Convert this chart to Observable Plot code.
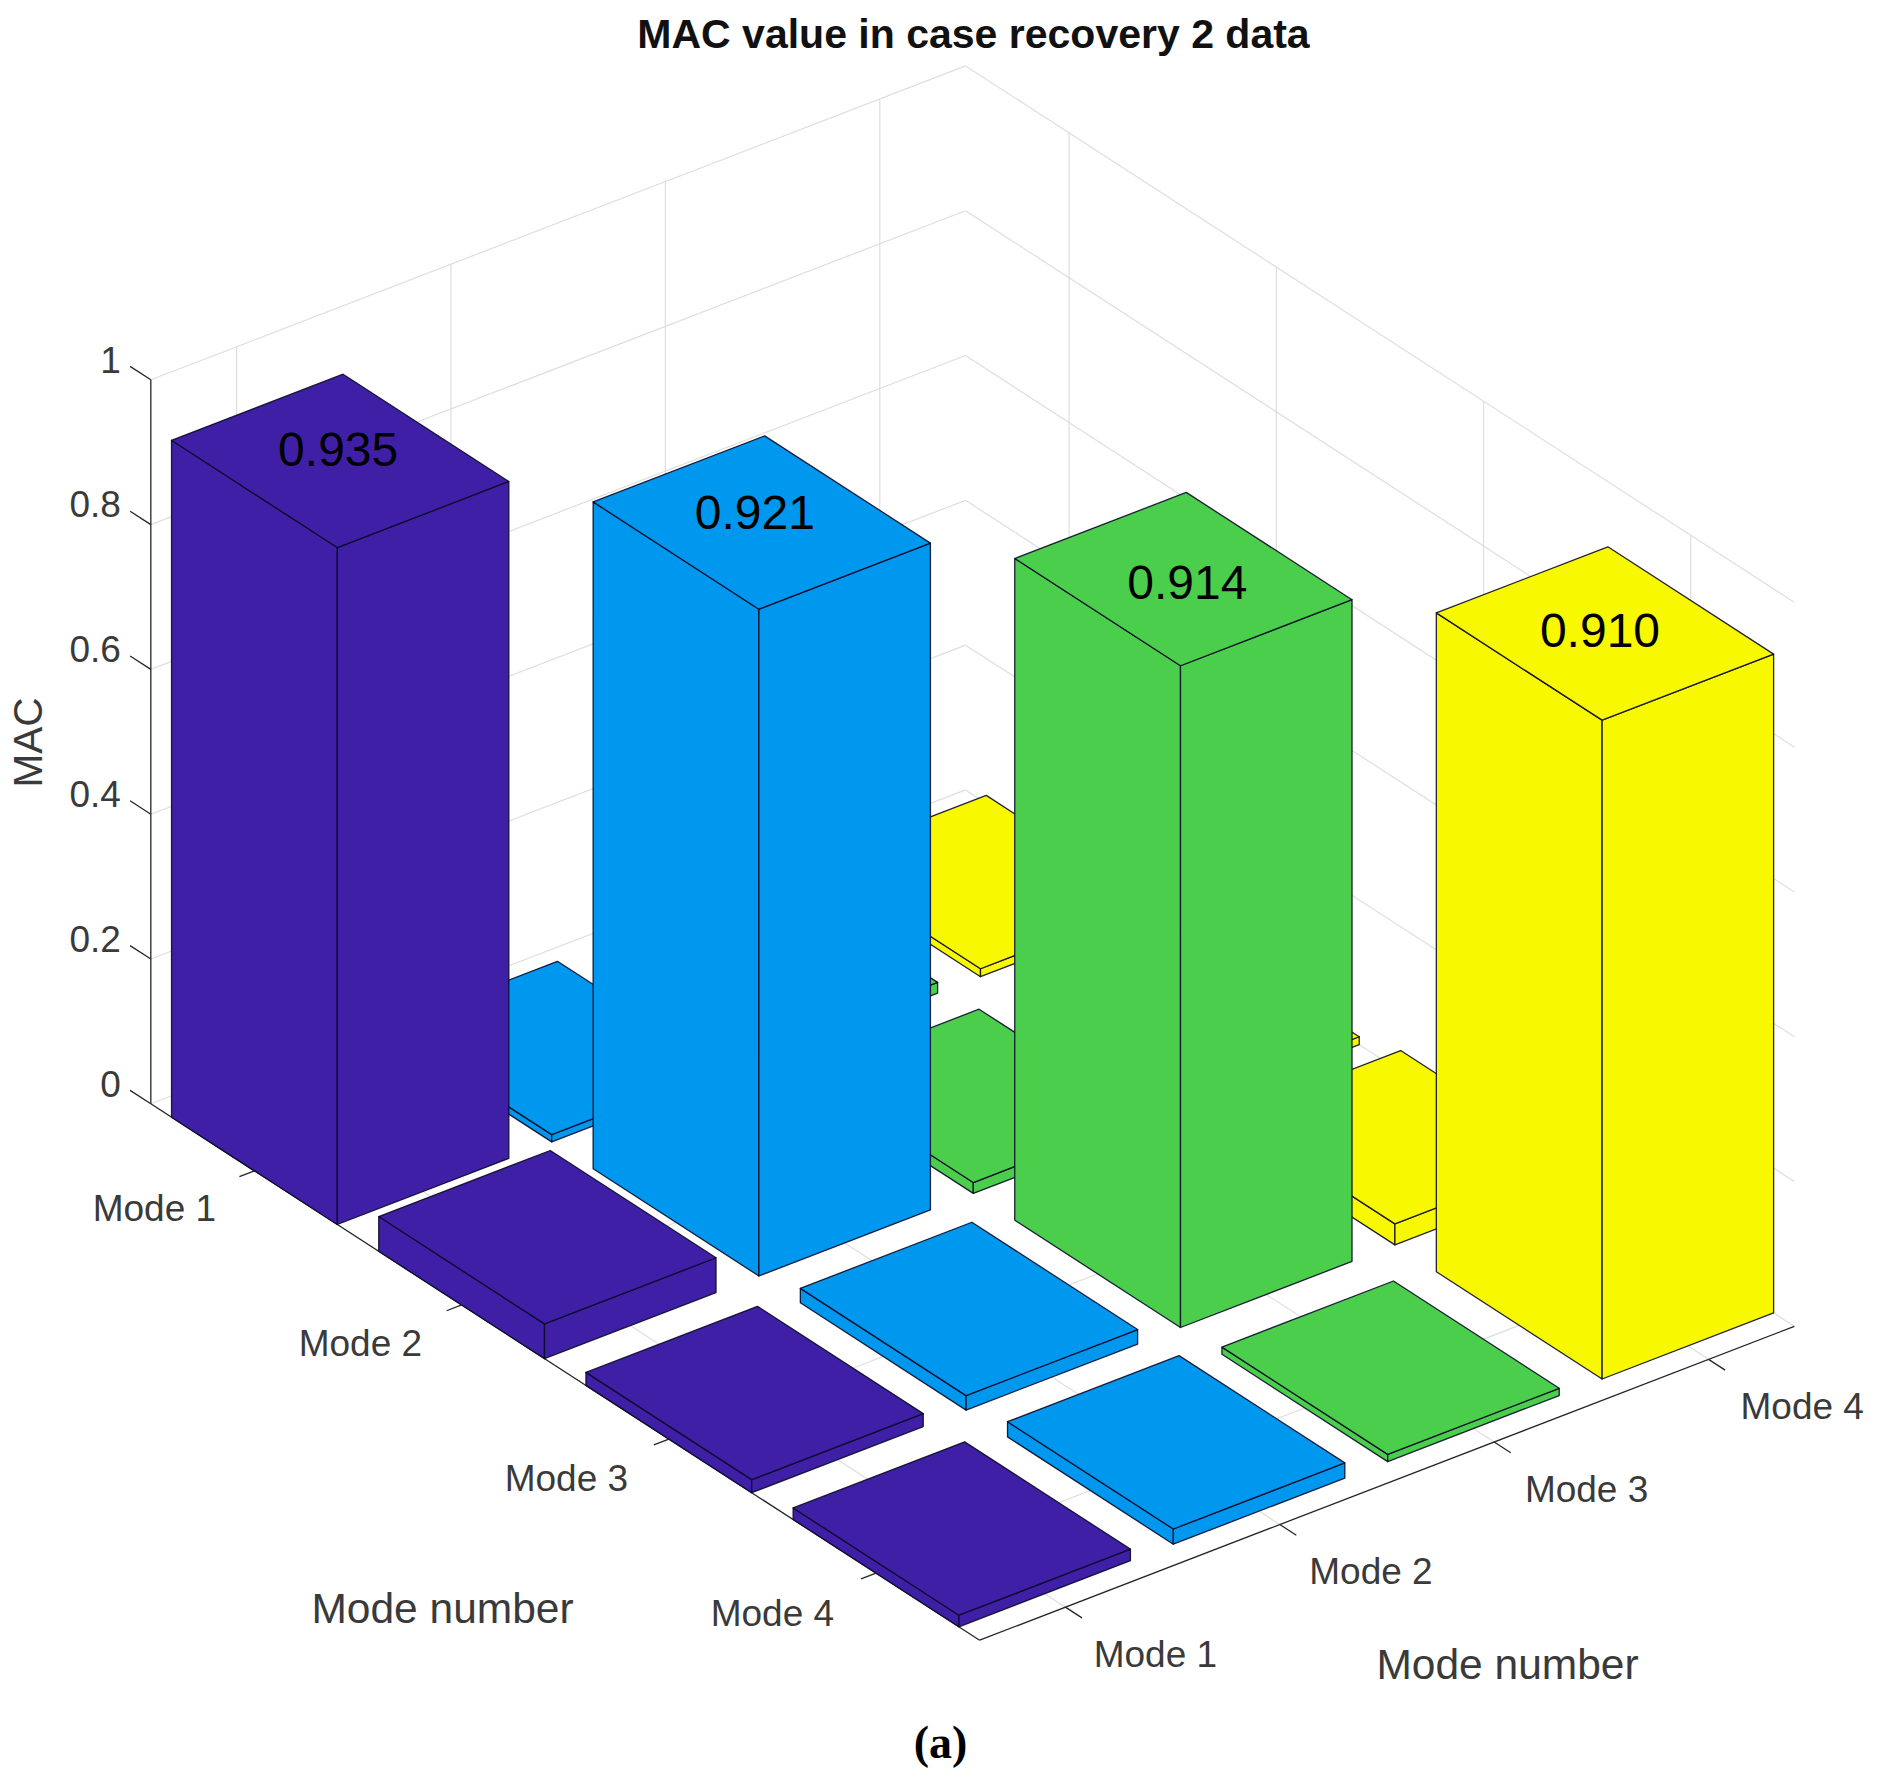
<!DOCTYPE html>
<html>
<head>
<meta charset="utf-8">
<script src="https://cdn.jsdelivr.net/npm/d3@7"></script>
<script src="https://cdn.jsdelivr.net/npm/@observablehq/plot@0.6"></script>
<style>
  html, body { margin: 0; padding: 0; background: #fff; overflow: hidden; }
  svg { display: block; }
</style>
</head>
<body>
<div id="chart"></div>
<script>
// ---- data ----
const modes = ["Mode 1", "Mode 2", "Mode 3", "Mode 4"];
const zTicks = [0, 0.2, 0.4, 0.6, 0.8, 1];
const zTickLabels = ["0", "0.2", "0.4", "0.6", "0.8", "1"];
const rowMode1 = [0.935, 0.010, 0.015, 0.011];
const rowMode2 = [0.048, 0.921, 0.015, 0.011];
const rowMode3 = [0.018, 0.020, 0.914, 0.029];
const rowMode4 = [0.016, 0.021, 0.010, 0.910];
const mac = [rowMode1, rowMode2, rowMode3, rowMode4];
const palette = ["#3f1fa6", "#0098ee", "#4bce4b", "#f8f800"];
const titleText = "MAC value in case recovery 2 data";
const axisTitle = "Mode number";
const zTitle = "MAC";
const panelLabel = "(a)";

// ---- 3-D view (orthographic) of the MATLAB-style bar3 axes ----
const W = 1878, H = 1787;
const uLim = [0.5, 4.5], vLim = [0.6, 4.4];
const half = 0.4;
const project = (u, v, z = 0) => ({
  x: 336.8 + (u - 1.4) * 207.2 + (v - 0.6) * 214.4,
  y: 1224 + (u - 1.4) * 134.1 - (v - 0.6) * 82.6 - z * 724
});
const seg = (a, b) => {
  const p = project(...a), q = project(...b);
  return {x1: p.x, y1: p.y, x2: q.x, y2: q.y};
};

// grid
const tickU = modes.map((_, i) => i + 1);
const grid = [];
for (const t of tickU) {
  grid.push(seg([t, vLim[0], 0], [t, vLim[1], 0]));   // floor
  grid.push(seg([uLim[0], t, 0], [uLim[1], t, 0]));   // floor
  grid.push(seg([t, vLim[1], 0], [t, vLim[1], 1]));   // right wall
  grid.push(seg([uLim[0], t, 0], [uLim[0], t, 1]));   // left wall
}
for (const z of zTicks) {
  grid.push(seg([uLim[0], vLim[0], z], [uLim[0], vLim[1], z]));
  grid.push(seg([uLim[0], vLim[1], z], [uLim[1], vLim[1], z]));
}

// axes and ticks
const axes = [
  seg([uLim[0], vLim[0], 0], [uLim[0], vLim[0], 1]),
  seg([uLim[0], vLim[0], 0], [uLim[1], vLim[0], 0]),
  seg([uLim[1], vLim[0], 0], [uLim[1], vLim[1], 0])
];
for (const z of zTicks) axes.push(seg([uLim[0], vLim[0], z], [uLim[0] - 0.1, vLim[0], z]));
for (const t of tickU) {
  axes.push(seg([t, vLim[0], 0], [t, vLim[0] - 0.07, 0]));
  axes.push(seg([uLim[1], t, 0], [uLim[1] + 0.08, t, 0]));
}

// bar faces, far bars first
const bars = [];
mac.forEach((row, i) => row.forEach((value, j) => bars.push({u: i + 1, v: j + 1, value, mode: modes[j]})));
bars.sort((a, b) => (a.u - a.v) - (b.u - b.v));
const faces = [];
bars.forEach((b, k) => {
  const u0 = b.u - half, u1 = b.u + half, v0 = b.v - half, v1 = b.v + half, h = b.value;
  const polys = [
    [[u0, v0, 0], [u1, v0, 0], [u1, v0, h], [u0, v0, h]],
    [[u1, v0, 0], [u1, v1, 0], [u1, v1, h], [u1, v0, h]],
    [[u0, v0, h], [u1, v0, h], [u1, v1, h], [u0, v1, h]]
  ];
  polys.forEach((poly, f) => {
    [...poly, poly[0]].forEach(pt => faces.push({...project(...pt), face: `${k}-${f}`, mode: b.mode}));
  });
});

// text
const tickFont = 37;
const grey = "#3a3a3a";
const zLabels = zTicks.map((z, i) => {
  const p = project(uLim[0], vLim[0], z);
  return {x: p.x - 30, y: p.y - 19, text: zTickLabels[i]};
});
const leftLabels = modes.map((m, i) => {
  const p = project(i + 1, vLim[0], 0);
  return {x: p.x - 100 - i * 1.2, y: p.y + 38 + i * 0.9, text: m};
});
const rightLabels = modes.map((m, i) => {
  const p = project(uLim[1], i + 1, 0);
  return {x: p.x + 90 + i * 1.2, y: p.y + 48, text: m};
});
const valueNudge = [[-2, -10], [-7, -9], [4, 5], [-5, -2]];
const valueLabels = modes.map((_, i) => {
  const p = project(i + 1, i + 1, mac[i][i]);
  return {x: p.x + valueNudge[i][0], y: p.y + valueNudge[i][1], text: mac[i][i].toFixed(3)};
});

const fontFamily = '"Liberation Sans", Arial, sans-serif';
const textMark = (data, opts) => Plot.text(data, {x: "x", y: "y", text: "text", lineAnchor: "middle", ...opts});
const linkMark = (data, opts) => Plot.link(data, {x1: "x1", y1: "y1", x2: "x2", y2: "y2", ...opts});

const chart = Plot.plot({
  width: W,
  height: H,
  margin: 0,
  x: {domain: [0, W], range: [0, W], axis: null},
  y: {domain: [0, H], range: [0, H], axis: null},
  color: {domain: modes, range: palette},
  style: {background: "#fff", fontFamily},
  marks: [
    linkMark(grid, {stroke: "#dedede", strokeWidth: 1.2}),
    linkMark(axes, {stroke: "#262626", strokeWidth: 1.3}),
    Plot.line(faces, {
      x: "x", y: "y", z: "face", fill: "mode",
      stroke: "#0a0a28", strokeWidth: 1.3, strokeOpacity: 0.9, curve: "linear"
    }),
    textMark(zLabels, {textAnchor: "end", fontSize: tickFont, fill: grey}),
    textMark(leftLabels, {fontSize: tickFont, fill: grey}),
    textMark(rightLabels, {fontSize: tickFont, fill: grey}),
    textMark(valueLabels, {fontSize: 48, fill: "#000"}),
    textMark([{x: 973, y: 34, text: titleText}], {fontSize: 41, fontWeight: "bold", fill: "#111"}),
    textMark([{x: 442, y: 1609, text: axisTitle}, {x: 1507, y: 1665, text: axisTitle}], {fontSize: 42.5, fill: grey}),
    textMark([{x: 29, y: 742, text: zTitle}], {fontSize: 40.5, fill: grey, rotate: -90}),
    textMark([{x: 940, y: 1743, text: panelLabel}], {fontSize: 46, fontWeight: "bold", fill: "#000", fontFamily: '"Liberation Serif", "Times New Roman", serif'})
  ]
});
document.getElementById("chart").appendChild(chart);
</script>
</body>
</html>
